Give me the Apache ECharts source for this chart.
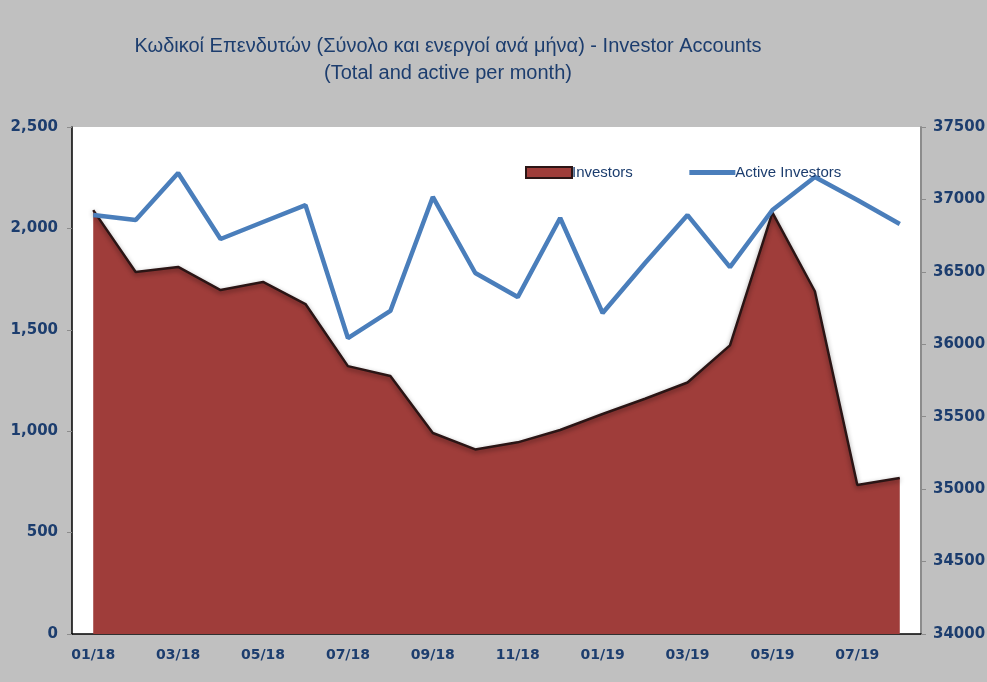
<!DOCTYPE html>
<html>
<head>
<meta charset="utf-8">
<script src="https://cdn.jsdelivr.net/npm/echarts@6/dist/echarts.min.js"></script>
<style>
  html, body { margin: 0; padding: 0; background: #c0c0c0; }
  #chart { width: 987px; height: 682px; }
</style>
</head>
<body>
<div id="chart"></div>
<script>
  // months 01/18 .. 08/19
  const months = ['01/18','02/18','03/18','04/18','05/18','06/18','07/18','08/18','09/18','10/18',
                  '11/18','12/18','01/19','02/19','03/19','04/19','05/19','06/19','07/19','08/19']
  const investors = [2090, 1785, 1810, 1696, 1736, 1627, 1321, 1272, 991, 910,
                     945, 1006, 1085, 1160, 1240, 1423, 2078, 1690, 735, 769]
  const activeInvestors = [36892, 36858, 37182, 36727, 36844, 36961, 36043, 36230, 37017, 36492,
                           36326, 36872, 36216, 36561, 36892, 36533, 36927, 37155, 36996, 36830]
  const leftTicks = [0, 500, 1000, 1500, 2000, 2500]
  const rightTicks = [34000, 34500, 35000, 35500, 36000, 36500, 37000, 37500]

  const navy = '#1c3d6e'
  const axisFont = { color: navy, fontSize: 15, fontWeight: 'bold', fontFamily: 'DejaVu Sans' }

  let myChart = echarts.init(document.getElementById('chart'))
  myChart.setOption({
    backgroundColor: '#c0c0c0',
    animation: false,
    title: {
      text: 'Κωδικοί Επενδυτών (Σύνολο και ενεργοί ανά μήνα) - Investor Accounts\n(Total and active per month)',
      left: 443,
      top: 28,
      textAlign: 'center',
      textStyle: {
        color: navy,
        fontSize: 20,
        fontWeight: 'normal',
        fontFamily: 'Liberation Sans',
        lineHeight: 27
      }
    },
    legend: {
      left: 520,
      top: 160,
      itemWidth: 46,
      itemHeight: 11,
      itemGap: 54,
      textStyle: { color: navy, fontSize: 15, fontFamily: 'Liberation Sans', padding: [0, 0, 0, -5] },
      data: [
        { name: 'Investors', icon: 'rect', itemStyle: { color: '#9f3d3a', borderColor: '#2b1515', borderWidth: 2 } },
        { name: 'Active Investors', itemStyle: { opacity: 0 }, lineStyle: { color: '#4a7ebb', width: 5 } }
      ]
    },
    grid: {
      left: 72,
      right: 66,
      top: 127,
      bottom: 48,
      outerBoundsMode: 'none',
      show: true,
      backgroundColor: '#fff',
      borderWidth: 0
    },
    xAxis: {
      type: 'category',
      data: months,
      boundaryGap: true,
      axisLine: { lineStyle: { color: '#000', width: 1.5 } },
      axisTick: { interval: 1, length: 6, lineStyle: { color: '#8c8c8c' } },
      axisLabel: Object.assign({ interval: 1, margin: 14 }, axisFont, { fontSize: 14 })
    },
    yAxis: [
      {
        type: 'value',
        min: leftTicks[0],
        max: leftTicks[leftTicks.length - 1],
        interval: 500,
        splitLine: { show: false },
        axisLine: { show: true, lineStyle: { color: '#000', width: 1.5 } },
        axisTick: { show: true, length: 5, lineStyle: { color: '#8c8c8c' } },
        axisLabel: Object.assign({
          margin: 14,
          formatter: v => v.toLocaleString('en-US')
        }, axisFont)
      },
      {
        type: 'value',
        min: rightTicks[0],
        max: rightTicks[rightTicks.length - 1],
        interval: 500,
        splitLine: { show: false },
        axisLine: { show: true, lineStyle: { color: '#8c8c8c', width: 2 } },
        axisTick: { show: true, length: 5, lineStyle: { color: '#8c8c8c' } },
        axisLabel: Object.assign({ margin: 12, formatter: v => String(v) }, axisFont)
      }
    ],
    series: [
      {
        name: 'Investors',
        type: 'line',
        yAxisIndex: 0,
        data: investors,
        symbol: 'none',
        z: 2,
        lineStyle: {
          color: '#2b1515',
          width: 2.5,
          shadowBlur: 5,
          shadowColor: 'rgba(0,0,0,0.45)',
          shadowOffsetY: 2
        },
        areaStyle: {
          color: '#9f3d3a',
          opacity: 1
        },
        itemStyle: { color: '#9f3d3a' }
      },
      {
        name: 'Active Investors',
        type: 'line',
        yAxisIndex: 1,
        data: activeInvestors,
        symbol: 'none',
        z: 3,
        lineStyle: { color: '#4a7ebb', width: 4.5 },
        itemStyle: { color: '#4a7ebb' }
      }
    ]
  })
</script>
</body>
</html>
